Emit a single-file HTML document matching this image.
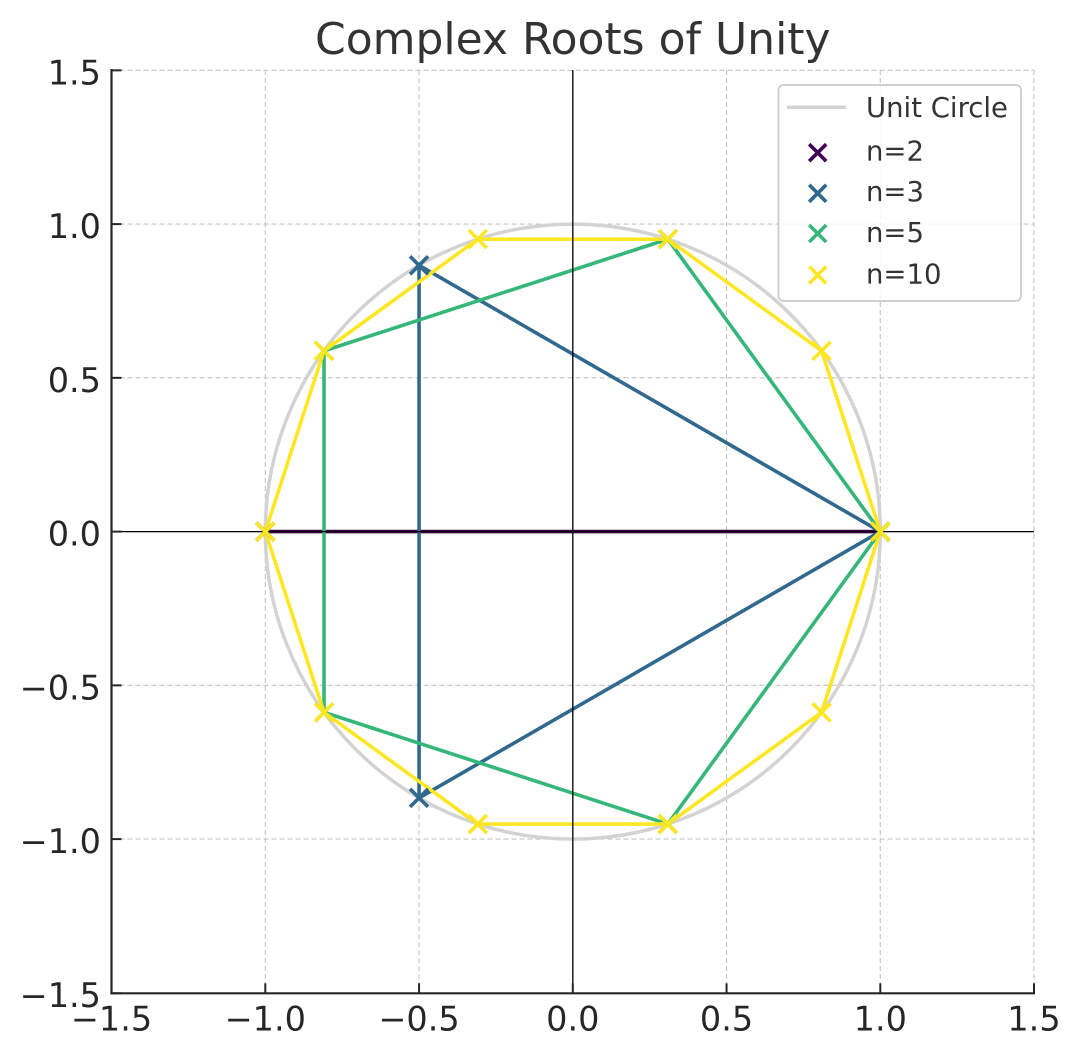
<!DOCTYPE html>
<html>
<head>
<meta charset="utf-8">
<style>
  html, body { margin:0; padding:0; background:#fff; }
  svg { display:block; }
  text { font-family: "DejaVu Sans", "Liberation Sans", sans-serif; }
</style>
</head>
<body>
<svg width="1081" height="1057" viewBox="0 0 1081 1057" xmlns="http://www.w3.org/2000/svg">
  <rect x="0" y="0" width="1081" height="1057" fill="#ffffff"/>

  <!-- Title -->
  <text x="572.8" y="54" text-anchor="middle" font-size="44" fill="#333333">Complex Roots of Unity</text>

  <!-- Grid -->
  <g stroke="#c4c4c4" stroke-width="1.1" stroke-dasharray="5,3" fill="none">
    <line x1="265.3" y1="70" x2="265.3" y2="993"/>
    <line x1="419.05" y1="70" x2="419.05" y2="993"/>
    <line x1="572.8" y1="70" x2="572.8" y2="993"/>
    <line x1="726.55" y1="70" x2="726.55" y2="993"/>
    <line x1="880.3" y1="70" x2="880.3" y2="993"/>
    <line x1="1034" y1="70" x2="1034" y2="993"/>
    <line x1="111.5" y1="70.35" x2="1034" y2="70.35"/>
    <line x1="111.5" y1="224.1" x2="1034" y2="224.1"/>
    <line x1="111.5" y1="377.85" x2="1034" y2="377.85"/>
    <line x1="111.5" y1="531.6" x2="1034" y2="531.6"/>
    <line x1="111.5" y1="685.35" x2="1034" y2="685.35"/>
    <line x1="111.5" y1="839.1" x2="1034" y2="839.1"/>
  </g>

  <!-- Unit circle -->
  <circle cx="572.8" cy="531.6" r="307.5" fill="none" stroke="#d3d3d3" stroke-width="3.5"/>

  <!-- n=2 -->
  <polyline points="880.3,531.6 265.3,531.6 880.3,531.6" fill="none" stroke="#440154" stroke-width="3.6"/>
  <!-- n=3 -->
  <polyline points="880.3,531.6 419.05,265.3 419.05,797.9 880.3,531.6" fill="none" stroke="#31688e" stroke-width="3.6" stroke-linejoin="round"/>
  <!-- n=5 -->
  <polyline points="880.3,531.6 667.82,239.15 324.03,350.86 324.03,712.34 667.82,824.05 880.3,531.6" fill="none" stroke="#35b779" stroke-width="3.6" stroke-linejoin="round"/>
  <!-- n=10 -->
  <polyline points="880.3,531.6 821.57,350.86 667.82,239.15 477.78,239.15 324.03,350.86 265.3,531.6 324.03,712.34 477.78,824.05 667.82,824.05 821.57,712.34 880.3,531.6" fill="none" stroke="#fde725" stroke-width="3.6" stroke-linejoin="round"/>

  <!-- axhline / axvline -->
  <line x1="111.5" y1="531.6" x2="1034" y2="531.6" stroke="#000" stroke-width="1.3"/>
  <line x1="572.8" y1="70" x2="572.8" y2="993" stroke="#000" stroke-width="1.3"/>

  <!-- Markers -->
  <defs>
    <path id="mx" d="M-9,-9 L9,9 M-9,9 L9,-9"/>
  </defs>
  <g fill="none" stroke-width="3.6">
    <!-- n=2 -->
    <use href="#mx" x="880.3" y="531.6" stroke="#440154"/>
    <use href="#mx" x="265.3" y="531.6" stroke="#440154"/>
    <!-- n=3 -->
    <use href="#mx" x="880.3" y="531.6" stroke="#31688e"/>
    <use href="#mx" x="419.05" y="265.3" stroke="#31688e"/>
    <use href="#mx" x="419.05" y="797.9" stroke="#31688e"/>
    <!-- n=5 -->
    <use href="#mx" x="880.3" y="531.6" stroke="#35b779"/>
    <use href="#mx" x="667.82" y="239.15" stroke="#35b779"/>
    <use href="#mx" x="324.03" y="350.86" stroke="#35b779"/>
    <use href="#mx" x="324.03" y="712.34" stroke="#35b779"/>
    <use href="#mx" x="667.82" y="824.05" stroke="#35b779"/>
    <!-- n=10 -->
    <g stroke="#fde725">
      <use href="#mx" x="880.3" y="531.6"/>
      <use href="#mx" x="821.57" y="350.86"/>
      <use href="#mx" x="667.82" y="239.15"/>
      <use href="#mx" x="477.78" y="239.15"/>
      <use href="#mx" x="324.03" y="350.86"/>
      <use href="#mx" x="265.3" y="531.6"/>
      <use href="#mx" x="324.03" y="712.34"/>
      <use href="#mx" x="477.78" y="824.05"/>
      <use href="#mx" x="667.82" y="824.05"/>
      <use href="#mx" x="821.57" y="712.34"/>
    </g>
  </g>

  <!-- Spines -->
  <g stroke="#262626" stroke-width="2.2" fill="none">
    <line x1="111.5" y1="69" x2="111.5" y2="994.3"/>
    <line x1="110.4" y1="993.3" x2="1035" y2="993.3"/>
  </g>

  <!-- Ticks (inward) -->
  <g stroke="#262626" stroke-width="2">
    <line x1="111.5" y1="70.35" x2="121.5" y2="70.35"/>
    <line x1="111.5" y1="224.1" x2="121.5" y2="224.1"/>
    <line x1="111.5" y1="377.85" x2="121.5" y2="377.85"/>
    <line x1="111.5" y1="531.6" x2="121.5" y2="531.6"/>
    <line x1="111.5" y1="685.35" x2="121.5" y2="685.35"/>
    <line x1="111.5" y1="839.1" x2="121.5" y2="839.1"/>
    <line x1="111.5" y1="993.3" x2="121.5" y2="993.3"/>

    <line x1="111.5" y1="993.3" x2="111.5" y2="983.3"/>
    <line x1="265.3" y1="993.3" x2="265.3" y2="983.3"/>
    <line x1="419.05" y1="993.3" x2="419.05" y2="983.3"/>
    <line x1="572.8" y1="993.3" x2="572.8" y2="983.3"/>
    <line x1="726.55" y1="993.3" x2="726.55" y2="983.3"/>
    <line x1="880.3" y1="993.3" x2="880.3" y2="983.3"/>
    <line x1="1034" y1="993.3" x2="1034" y2="983.3"/>
  </g>

  <!-- Y tick labels -->
  <g font-size="33.5" fill="#262626" text-anchor="end">
    <text x="101" y="84.5">1.5</text>
    <text x="101" y="238.2">1.0</text>
    <text x="101" y="392">0.5</text>
    <text x="101" y="545.7">0.0</text>
    <text x="101" y="699.5">−0.5</text>
    <text x="101" y="853.2">−1.0</text>
    <text x="101" y="1007">−1.5</text>
  </g>

  <!-- X tick labels -->
  <g font-size="33.5" fill="#262626" text-anchor="middle">
    <text x="111.5" y="1030.5">−1.5</text>
    <text x="265.3" y="1030.5">−1.0</text>
    <text x="419.05" y="1030.5">−0.5</text>
    <text x="572.8" y="1030.5">0.0</text>
    <text x="726.55" y="1030.5">0.5</text>
    <text x="880.3" y="1030.5">1.0</text>
    <text x="1034" y="1030.5">1.5</text>
  </g>

  <!-- Legend -->
  <rect x="778.5" y="85" width="242.5" height="216" rx="5" ry="5" fill="#ffffff" fill-opacity="0.8" stroke="#d0d0d0" stroke-width="2"/>
  <line x1="787" y1="107.3" x2="846" y2="107.3" stroke="#d3d3d3" stroke-width="3.5"/>
  <g fill="none" stroke-width="3.6">
    <path d="M-8.5,-8.5 L8.5,8.5 M-8.5,8.5 L8.5,-8.5" transform="translate(817.7,152.7)" stroke="#440154"/>
    <path d="M-8.5,-8.5 L8.5,8.5 M-8.5,8.5 L8.5,-8.5" transform="translate(817.7,193.3)" stroke="#31688e"/>
    <path d="M-8.5,-8.5 L8.5,8.5 M-8.5,8.5 L8.5,-8.5" transform="translate(817.7,233.5)" stroke="#35b779"/>
    <path d="M-8.5,-8.5 L8.5,8.5 M-8.5,8.5 L8.5,-8.5" transform="translate(817.7,275)" stroke="#fde725"/>
  </g>
  <g font-size="27.5" fill="#333333">
    <text x="866" y="117">Unit Circle</text>
    <text x="866" y="160.5">n=2</text>
    <text x="866" y="201">n=3</text>
    <text x="866" y="242">n=5</text>
    <text x="866" y="283.5">n=10</text>
  </g>
</svg>
</body>
</html>
